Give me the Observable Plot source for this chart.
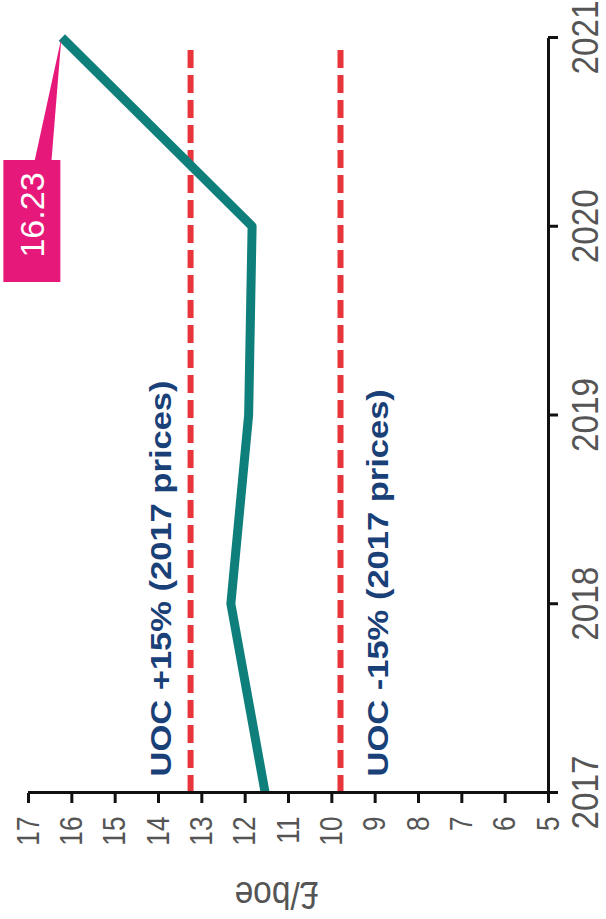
<!DOCTYPE html>
<html>
<head>
<meta charset="utf-8">
<script src="https://cdn.jsdelivr.net/npm/d3@7"></script>
<script src="https://cdn.jsdelivr.net/npm/@observablehq/plot@0.6"></script>
<style>
  html, body { margin: 0; padding: 0; background: #fff; width: 606px; height: 919px; overflow: hidden; }
  /* the chart is laid out landscape and turned a quarter-turn anticlockwise */
  #chart { position: absolute; left: 0; top: 0; width: 919px; height: 606px;
           transform-origin: 0 0; transform: translate(0, 919px) rotate(-90deg); }
</style>
</head>
<body>
<div id="chart"></div>
<script>
// Unit operating cost, £/boe
const years = [2017, 2018, 2019, 2020, 2021];
const unitCost = [11.54, 12.33, 11.92, 11.84, 16.23];

// UOC ±15% reference levels (2017 prices)
const bandLevels = [13.26, 9.80];
const bandLabels = ["UOC +15% (2017 prices)", "UOC -15% (2017 prices)"];
const bandEndYear = 2020.96;

const valueTicks = [5, 6, 7, 8, 9, 10, 11, 12, 13, 14, 15, 16, 17];
const yearTicks = [2017, 2018, 2019, 2020, 2021];
const valueLabel = "£/boe";

const calloutYear = 2021;
const calloutValue = 16.23;
const calloutText = "16.23";

const series = years.map((year, i) => ({year, value: unitCost[i]}));
const bands = bandLevels.map((level, i) => ({level, label: bandLabels[i]}));

const sans = "'Liberation Sans', Arial, Helvetica, sans-serif";
const teal = "#0f7f7c";
const red = "#e8353b";
const navy = "#1a4078";
const pink = "#e6197a";
const grey = "#555";

// Pink value tag with a long pointer back to the last point
function callout(index, scales) {
  const px = scales.x(calloutYear), py = scales.y(calloutValue);
  const boxW = 122, boxH = 57, gap = 122;
  const bx = px - gap - boxW, by = py - boxH - 1;
  const g = d3.create("svg:g");
  g.append("path")
    .attr("d", `M${bx + boxW - 2},${py - 27} L${px},${py} L${bx + boxW - 2},${py - 10} Z`)
    .attr("fill", pink);
  g.append("rect")
    .attr("x", bx).attr("y", by).attr("width", boxW).attr("height", boxH)
    .attr("fill", pink);
  g.append("text")
    .attr("x", bx + boxW / 2 + 6).attr("y", by + boxH / 2)
    .attr("dy", "0.36em")
    .attr("text-anchor", "middle")
    .attr("fill", "#fff")
    .attr("font-family", sans)
    .attr("font-size", 34)
    .text(calloutText);
  return g.node();
}

const bandText = {x: 2017, y: "level", text: "label", textAnchor: "start", dx: 16,
  fill: navy, fontWeight: "bold", fontSize: 29.5, fontFamily: sans, className: "wide"};

const chart = Plot.plot({
  width: 919,
  height: 606,
  marginLeft: 126,
  marginRight: 38,
  marginTop: 28,
  marginBottom: 58,
  style: {fontFamily: sans, background: "#fff", overflow: "visible"},
  x: {domain: [2017, 2021]},
  y: {domain: [5, 17]},
  marks: [
    Plot.ruleY(bands, {y: "level", x1: 2017, x2: bandEndYear, stroke: red, strokeWidth: 6, strokeDasharray: "18,7"}),
    Plot.text(bands.slice(0, 1), {...bandText, lineAnchor: "bottom", dy: -20}),
    Plot.text(bands.slice(1), {...bandText, lineAnchor: "top", dy: 27}),
    Plot.line(series, {x: "year", y: "value", stroke: teal, strokeWidth: 9, strokeLinejoin: "round", strokeLinecap: "butt"}),
    Plot.ruleX([2017], {y1: 5, y2: 17, stroke: "#111", strokeWidth: 3}),
    Plot.ruleY([5], {x1: 2017, x2: 2021, stroke: "#111", strokeWidth: 3}),
    Plot.axisY({ticks: valueTicks, tickSize: 10, tickPadding: 14, label: null, tickFormat: d => String(d),
      fontSize: 32, fontFamily: sans, fill: grey, stroke: "#111", strokeWidth: 3, className: "narrow"}),
    Plot.axisX({ticks: yearTicks, tickSize: 10, tickPadding: 13, label: null, tickFormat: d => String(d),
      fontSize: 37, fontFamily: sans, fill: grey, stroke: "#111", strokeWidth: 3, className: "years"}),
    Plot.text([valueLabel], {frameAnchor: "left", rotate: -90, textAnchor: "middle", lineAnchor: "middle",
      dx: -102, dy: -12, text: d => d, fontSize: 39, fontFamily: sans, fill: grey, className: "unit"}),
    callout
  ]
});

// Stretch or condense text along its reading direction, keeping its anchor point
function stretchText(selector, k) {
  d3.select(chart).selectAll(selector).each(function() {
    const t = d3.select(this);
    const tr = t.attr("transform");
    if (tr) {
      t.attr("transform", `${tr} scale(${k},1)`);
    } else {
      const x = +t.attr("x") || 0, y = +t.attr("y") || 0;
      t.attr("x", null).attr("y", null).attr("transform", `translate(${x},${y}) scale(${k},1)`);
    }
  });
}
stretchText(".narrow text", 0.82);
stretchText(".unit text", 0.86);
stretchText(".years text", 0.9);
stretchText(".wide text", 1.17);

document.getElementById("chart").appendChild(chart);
</script>
</body>
</html>
